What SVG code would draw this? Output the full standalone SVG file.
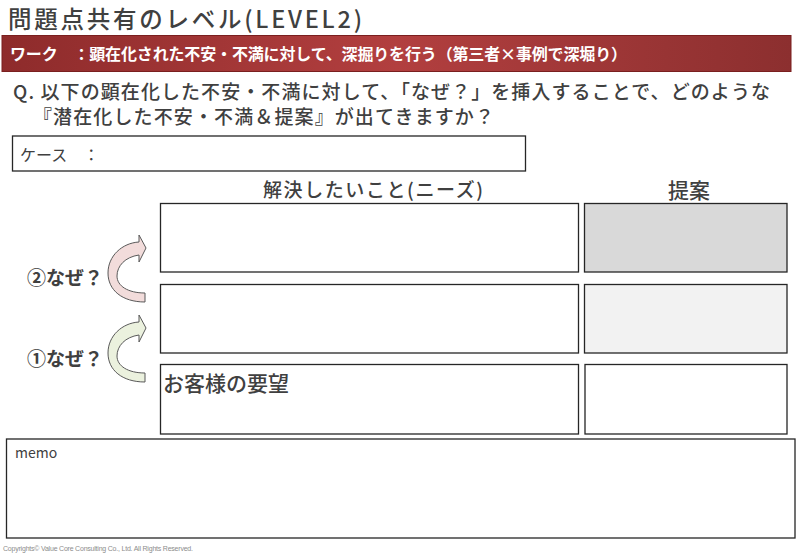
<svg xmlns="http://www.w3.org/2000/svg" width="800" height="555" viewBox="0 0 800 555">
<defs>
<linearGradient id="barGrad" x1="0" y1="0" x2="1" y2="0">
<stop offset="0" stop-color="#8e2b2b"/>
<stop offset="0.5" stop-color="#b23f3f"/>
<stop offset="1" stop-color="#8c2f2f"/>
</linearGradient>
<path id="curveArrow" d="M139 242 L139 235 L146 248 L139 262 L139 255 C125 257 117 266 117 276 C117 286 128 293 145 293 L145 302 C122 302 108 290 108 273 C108 256 122 243 139 242 Z"/>
</defs>
<style>
text{font-family:"Noto Sans CJK JP","Noto Sans",sans-serif;}
.box{fill:#fff;stroke:#262626;stroke-width:1.3;}
.dark{fill:#404040;}
.med{font-weight:500;}
.arrow{stroke:#595959;stroke-width:1;}
</style>
<rect width="800" height="555" fill="#fff"/>

<g id="title">
<text x="8" y="27.5" font-size="23.5" class="dark med" textLength="354" lengthAdjust="spacing">問題点共有のレベル(LEVEL2)</text>
</g>

<g id="work-bar">
<rect x="2" y="35.5" width="789" height="36" fill="url(#barGrad)" stroke="#7a1f1f" stroke-width="1"/>
<text x="10" y="60" font-size="16" font-weight="bold" fill="#fff" textLength="617" lengthAdjust="spacing">ワーク　：顕在化された不安・不満に対して、深掘りを行う（第三者×事例で深堀り）</text>
</g>

<g id="question">
<text x="13" y="99" font-size="19" class="dark med" textLength="757" lengthAdjust="spacing">Q. 以下の顕在化した不安・不満に対して、「なぜ？」を挿入することで、どのような</text>
<text x="33" y="124" font-size="19" class="dark med" textLength="461" lengthAdjust="spacing">『潜在化した不安・不満＆提案』が出てきますか？</text>
</g>

<g id="case">
<rect class="box" x="12.5" y="136" width="513" height="35" stroke="#595959"/>
<text x="20" y="161" font-size="16" class="dark">ケース　：</text>
</g>

<g id="headers">
<text x="373" y="197" font-size="19" class="dark med" text-anchor="middle" textLength="220" lengthAdjust="spacing">解決したいこと(ニーズ)</text>
<text x="689" y="198" font-size="21" class="dark med" text-anchor="middle">提案</text>
</g>

<g id="need-2">
<rect class="box" x="160.5" y="203.5" width="418" height="68.5"/>
</g>
<g id="proposal-2">
<rect class="box" x="584.5" y="203.5" width="202.5" height="68.5" style="fill:#d9d9d9"/>
</g>
<g id="need-1">
<rect class="box" x="160.5" y="284.5" width="418" height="68.5"/>
</g>
<g id="proposal-1">
<rect class="box" x="584.5" y="284.5" width="202.5" height="68.5" style="fill:#f2f2f2"/>
</g>
<g id="need-0">
<rect class="box" x="160.5" y="364.5" width="418" height="69.5"/>
<text x="163" y="391" font-size="21" class="dark med">お客様の要望</text>
</g>
<g id="proposal-0">
<rect class="box" x="585" y="364.5" width="202" height="69.5"/>
</g>

<g id="why-2">
<text x="27" y="285" font-size="19" font-weight="bold" class="dark">②なぜ？</text>
</g>
<g id="why-1">
<text x="27" y="366" font-size="19" font-weight="bold" class="dark">①なぜ？</text>
</g>

<g id="connectors">
<use href="#curveArrow" class="arrow" fill="#f2dcdb"/>
<use href="#curveArrow" class="arrow" fill="#ebf1de" transform="translate(0,80)"/>
</g>

<g id="memo">
<rect class="box" x="6.5" y="439" width="788.5" height="99" stroke="#404040"/>
<text x="15" y="458" font-size="14" class="dark">memo</text>
</g>

<text x="3" y="551" font-size="7" fill="#8c8c8c" textLength="190" lengthAdjust="spacing" style="font-family:'Liberation Sans',sans-serif">Copyrights© Value Core Consulting Co., Ltd.  All Rights Reserved.</text>
</svg>
